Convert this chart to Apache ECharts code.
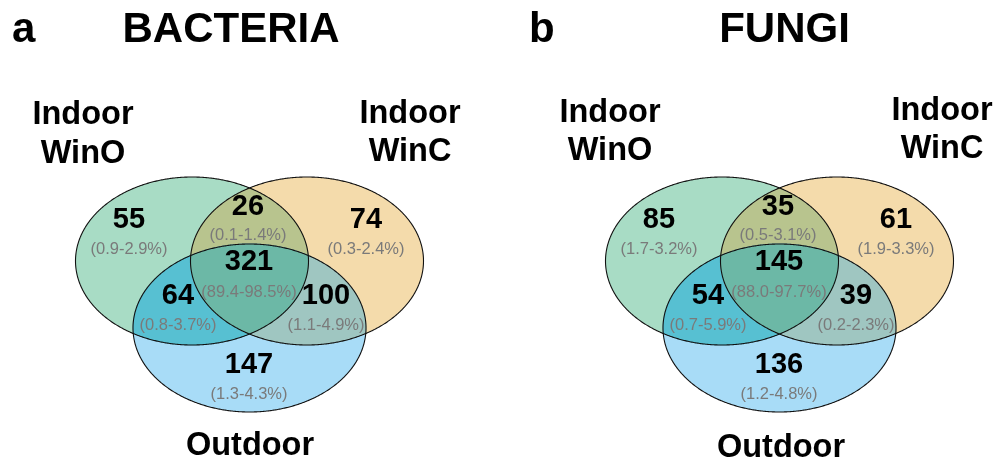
<!DOCTYPE html>
<html>
<head>
<meta charset="utf-8">
<title>Shared taxa: bacteria and fungi</title>
<script src="https://cdn.jsdelivr.net/npm/echarts@6/dist/echarts.min.js"></script>
<style>
  html, body { margin: 0; padding: 0; background: #ffffff; }
  #chart { width: 997px; height: 459px; }
</style>
</head>
<body>
<div id="chart"></div>
<script>
// ---- data -------------------------------------------------------------
const panelTags = ['a', 'b'];
const panelTitles = ['BACTERIA', 'FUNGI'];
const setNames = ['Indoor\nWinO', 'Indoor\nWinC', 'Outdoor'];

// region order: WinO only, WinO&WinC, WinC only, all three, WinO&Outdoor, WinC&Outdoor, Outdoor only
const regionKeys = ['WinO', 'WinO+WinC', 'WinC', 'WinO+WinC+Outdoor', 'WinO+Outdoor', 'WinC+Outdoor', 'Outdoor'];
const bacteriaCounts = [55, 26, 74, 321, 64, 100, 147];
const bacteriaRanges = ['0.9-2.9%', '0.1-1.4%', '0.3-2.4%', '89.4-98.5%', '0.8-3.7%', '1.1-4.9%', '1.3-4.3%'];
const fungiCounts = [85, 35, 61, 145, 54, 39, 136];
const fungiRanges = ['1.7-3.2%', '0.5-3.1%', '1.9-3.3%', '88.0-97.7%', '0.7-5.9%', '0.2-2.3%', '1.2-4.8%'];

// ---- layout (page units, one unit per pixel) --------------------------
const W = 997, H = 459;
const panelX = [0, 530];
const ellipses = [           // WinO, WinC, Outdoor
  { cx: 192,   cy: 261, rx: 116.5, ry: 84 },
  { cx: 307,   cy: 261, rx: 116.5, ry: 84 },
  { cx: 249.5, cy: 328, rx: 116.5, ry: 84 }
];
// label anchors per region: [x, count centre y, range centre y]
const regionAnchors = [
  [129, 219.5, 249.5],
  [248, 206.5, 235.5],
  [366, 219.5, 249.5],
  [249, 262,   292.5],
  [178, 296,   325],
  [326, 296,   325],
  [249, 365,   394.5]
];
// region fills, same order as regionKeys
const regionColors = ['#a8dcc5', '#b8c48e', '#f4dbab', '#6cb8a6', '#57c0d2', '#9fc6c1', '#a8dcf7'];
// region membership (indices into ellipses)
const regionSets = [[0], [0, 1], [1], [0, 1, 2], [0, 2], [1, 2], [2]];

const FONT = "'Liberation Sans', Arial, Helvetica, sans-serif";

// ---- geometry helpers --------------------------------------------------
const N = 720;
function boundary(e, dx) {
  const pts = [];
  for (let i = 0; i < N; i++) {
    const t = (i / N) * Math.PI * 2;
    pts.push([e.cx + dx + e.rx * Math.cos(t), e.cy + e.ry * Math.sin(t)]);
  }
  return pts;
}
function inside(p, e, dx) {
  const u = (p[0] - e.cx - dx) / e.rx, v = (p[1] - e.cy) / e.ry;
  return u * u + v * v <= 1 + 1e-9;
}
// convex intersection of several ellipses as a polygon
function intersection(idx, dx) {
  const pts = [];
  idx.forEach(i => {
    boundary(ellipses[i], dx).forEach(p => {
      if (idx.every(j => j === i || inside(p, ellipses[j], dx))) pts.push(p);
    });
  });
  let mx = 0, my = 0;
  pts.forEach(p => { mx += p[0]; my += p[1]; });
  mx /= pts.length; my /= pts.length;
  pts.sort((a, b) => Math.atan2(a[1] - my, a[0] - mx) - Math.atan2(b[1] - my, b[0] - mx));
  return pts;
}

// ---- series ------------------------------------------------------------
// one venn per panel: single-set fills, overlaps on top, outlines last
function renderVenn(params, api) {
  const p = api.value(0);
  const dx = panelX[p];
  const toPx = pts => pts.map(q => api.coord(q));
  const children = [];
  // single sets (in drawing order WinO, WinC, Outdoor)
  [0, 2, 6].forEach(r => {
    const e = ellipses[regionSets[r][0]];
    children.push({ type: 'polygon', shape: { points: toPx(boundary(e, dx)) },
      style: { fill: regionColors[r], stroke: null } });
  });
  // overlaps
  [1, 4, 5, 3].forEach(r => {
    children.push({ type: 'polygon', shape: { points: toPx(intersection(regionSets[r], dx)) },
      style: { fill: regionColors[r], stroke: regionColors[r], lineWidth: 0.6 } });
  });
  // outlines
  ellipses.forEach(e => {
    children.push({ type: 'polygon', shape: { points: toPx(boundary(e, dx)) },
      style: { fill: null, stroke: '#111111', lineWidth: 1.1 } });
  });
  return { type: 'group', children };
}

function renderRegionLabel(params, api) {
  const p = api.value(0), r = api.value(1);
  const a = regionAnchors[r];
  const counts = p === 0 ? bacteriaCounts : fungiCounts;
  const ranges = p === 0 ? bacteriaRanges : fungiRanges;
  const c1 = api.coord([a[0] + panelX[p], a[1]]);
  const c2 = api.coord([a[0] + panelX[p], a[2]]);
  return { type: 'group', children: [
    { type: 'text', x: c1[0], y: c1[1], style: {
      text: String(counts[r]), font: 'bold 29px ' + FONT, fill: '#000',
      textAlign: 'center', textVerticalAlign: 'middle' } },
    { type: 'text', x: c2[0], y: c2[1], style: {
      text: '(' + ranges[r] + ')', font: '16.5px ' + FONT, fill: '#7a7a7a',
      textAlign: 'center', textVerticalAlign: 'middle' } }
  ] };
}

const vennData = panelTags.map((t, i) => [i]);
const labelData = [];
panelTags.forEach((t, p) => regionKeys.forEach((k, r) => labelData.push([p, r])));

// set names and panel headings
const headingY = 30;
const setLabelPos = [
  // [x, line1 y, line2 y] per panel, per set
  [[83, 115.5, 154.5], [410, 114.5, 152.5], [250, 446]],
  [[610, 113, 151],    [942, 111, 149.5],   [781, 448]]
];
const graphics = [];
panelTags.forEach((tag, p) => {
  graphics.push({ type: 'text', x: [12, 529][p], y: headingY, style: {
    text: tag, font: 'bold 42px ' + FONT, fill: '#000', textAlign: 'left', textVerticalAlign: 'middle' } });
  graphics.push({ type: 'text', x: [231, 784.5][p], y: headingY, style: {
    text: panelTitles[p], font: 'bold 42px ' + FONT, fill: '#000', textAlign: 'center', textVerticalAlign: 'middle' } });
  setNames.forEach((name, s) => {
    const pos = setLabelPos[p][s];
    name.split('\n').forEach((line, li) => {
      graphics.push({ type: 'text', x: pos[0], y: pos[1 + li], style: {
        text: line, font: 'bold 32.5px ' + FONT, fill: '#000', textAlign: 'center', textVerticalAlign: 'middle' } });
    });
  });
});

const chart = echarts.init(document.getElementById('chart'), null, { renderer: 'canvas' });
chart.setOption({
  backgroundColor: '#ffffff',
  animation: false,
  grid: { left: 0, right: 0, top: 0, bottom: 0 },
  xAxis: { type: 'value', min: 0, max: W, show: false },
  yAxis: { type: 'value', min: 0, max: H, inverse: true, show: false },
  series: [
    { type: 'custom', name: 'sets', renderItem: renderVenn, data: vennData, silent: true, z: 1 },
    { type: 'custom', name: 'regions', renderItem: renderRegionLabel, data: labelData, silent: true, z: 2 }
  ],
  graphic: graphics
});
</script>
</body>
</html>
